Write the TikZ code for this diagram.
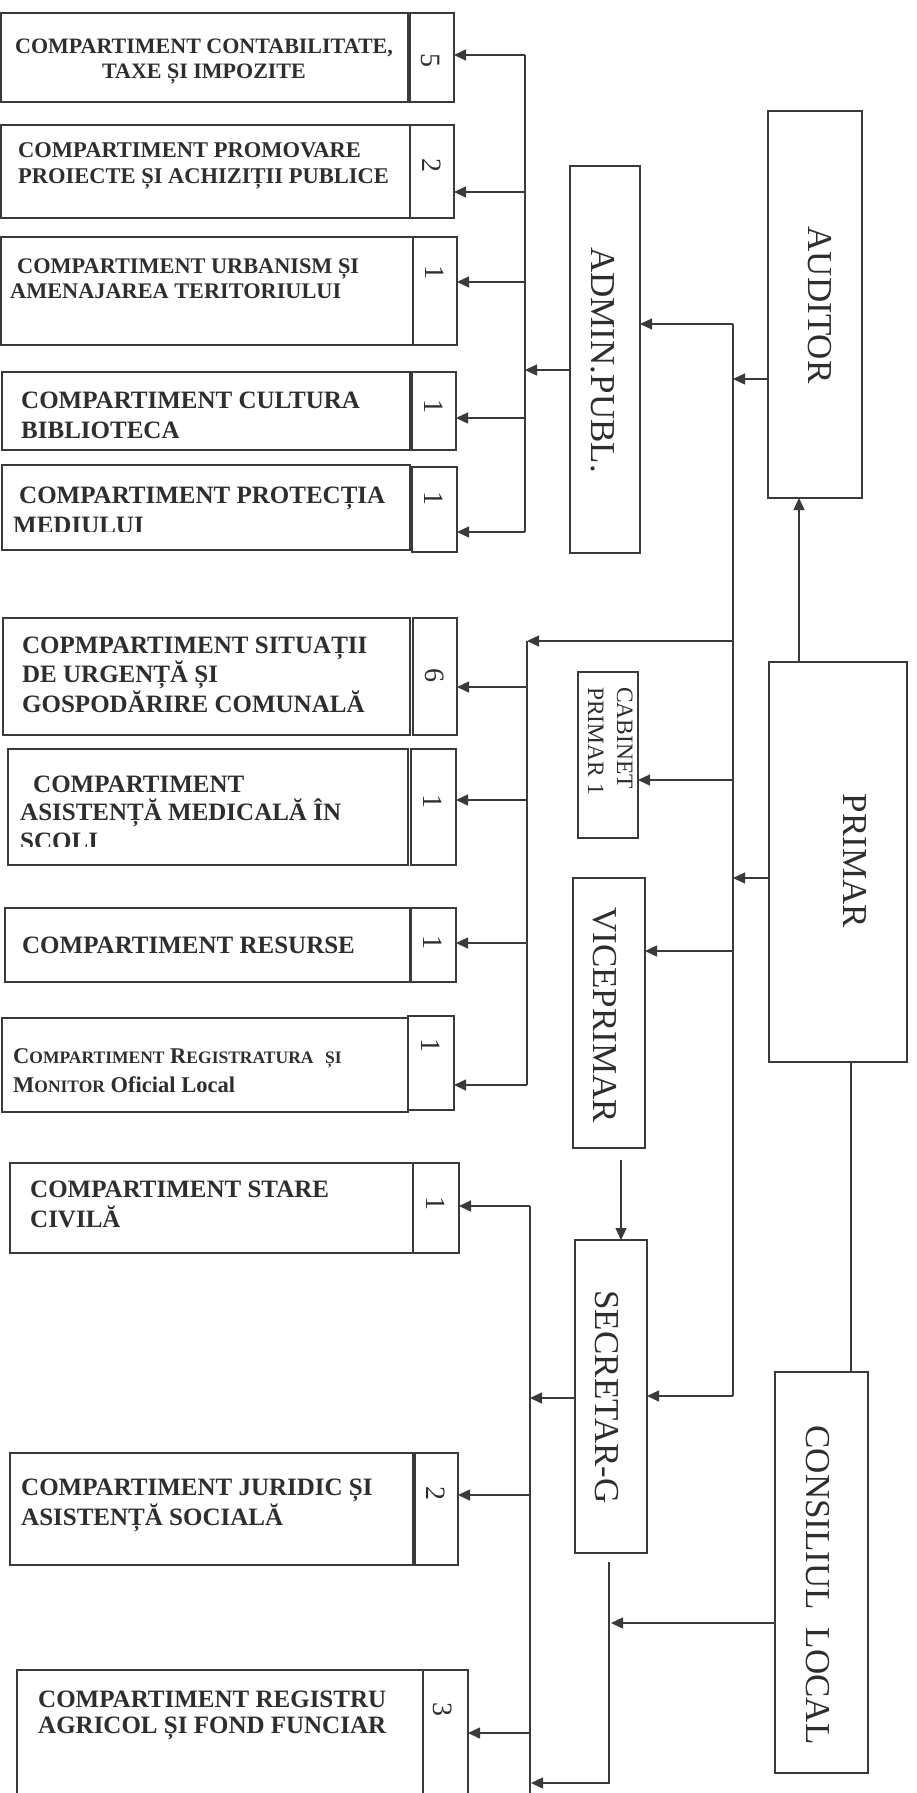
\documentclass[tikz,border=0pt]{standalone}
\usepackage{fontspec}
\setmainfont{Liberation Serif}
\usetikzlibrary{arrows.meta}
\definecolor{inkc}{HTML}{2E2E2E}
\definecolor{linec}{HTML}{3A3A3A}
\newcommand\fsc[1]{{\fontsize{17.5}{20}\selectfont #1}}
\tikzset{
  box/.style={draw=linec, line width=1.6pt, inner sep=0pt, outer sep=0pt, anchor=north west},
  ln/.style={draw=linec, line width=1.4pt},
  arr/.style={draw=linec, line width=1.4pt, -{Triangle[length=12pt,width=11pt]}},
  lt/.style={font=\bfseries\fontsize{25}{29.5}\selectfont, inner sep=0pt, anchor=base west, align=left, text=inkc},
  dig/.style={font=\fontsize{28}{28}\selectfont, rotate=-90, inner sep=0pt, text=inkc},
  rl/.style={font=\fontsize{35}{35}\selectfont, rotate=-90, inner sep=0pt, text=inkc},
}
\newcommand\rbox[6][]{\node[box,#1,minimum width={#5pt-#3pt},minimum height={#6pt-#4pt}] (#2) at (#3,#4) {};}
\begin{document}
\begin{tikzpicture}[x=1pt,y=-1pt]
\useasboundingbox (0,0) rectangle (917,1793);
\clip (0,0) rectangle (917,1793);
\fill[white] (0,0) rectangle (917,1793);

% ---------- left boxes ----------
\rbox{t1}{1}{13}{408}{102}   \rbox{n1}{410}{13}{454}{102}
\rbox{t2}{1}{125}{410}{218}  \rbox{n2}{410}{125}{454}{218}
\rbox{t3}{1}{237}{413}{345}  \rbox{n3}{413}{237}{457}{345}
\rbox{t4}{2}{372}{410}{450}  \rbox{n4}{412}{372}{456}{450}
\rbox{t5}{2}{465}{410}{550}  \rbox{n5}{412}{467}{457}{552}
\rbox{t6}{3}{618}{410}{735}  \rbox{n6}{413}{618}{457}{735}
\rbox{t7}{8}{749}{408}{865}  \rbox{n7}{411}{749}{456}{865}
\rbox{t8}{5}{908}{410}{982}  \rbox{n8}{411}{908}{456}{982}
\rbox{t9}{2}{1018}{408}{1112} \rbox{n9}{408}{1016}{454}{1110}
\rbox{t10}{10}{1163}{413}{1253} \rbox{n10}{413}{1163}{459}{1253}
\rbox{t11}{10}{1453}{413}{1565} \rbox{n11}{415}{1453}{458}{1565}
\rbox{t12}{17}{1670}{423}{1820} \rbox{n12}{423}{1670}{468}{1820}

% multi-line text nodes are anchored at the baseline of their last line
\node[lt, anchor=base, align=center, font=\bfseries\fontsize{22}{25}\selectfont] (x1) at (204,78) {COMPARTIMENT CONTABILITATE,\\TAXE ȘI IMPOZITE};
\node[lt, font=\bfseries\fontsize{22.5}{26}\selectfont] (x2) at (18,183) {COMPARTIMENT PROMOVARE\\PROIECTE ȘI ACHIZIȚII PUBLICE};
\node[lt, font=\bfseries\fontsize{22.3}{25}\selectfont] (x3) at (10,298) {\hspace*{7pt}COMPARTIMENT URBANISM ȘI\\AMENAJAREA TERITORIULUI};
\node[lt, font=\bfseries\fontsize{25}{30}\selectfont] (x4) at (21,438) {COMPARTIMENT CULTURA\\BIBLIOTECA};
\begin{scope}
\clip (2,465) rectangle (410,531);
\node[lt, font=\bfseries\fontsize{25}{30}\selectfont] (x5) at (13,533) {\hspace*{6pt}COMPARTIMENT PROTECȚIA\\MEDIULUI};
\end{scope}
\node[lt] (x6) at (22,712) {COPMPARTIMENT SITUAȚII\\DE URGENȚĂ ȘI\\GOSPODĂRIRE COMUNALĂ};
\begin{scope}
\clip (8,749) rectangle (408,846);
\node[lt, font=\bfseries\fontsize{25}{28.5}\selectfont] (x7) at (20,849) {\hspace*{13pt}COMPARTIMENT\\ASISTENȚĂ MEDICALĂ ÎN\\SCOLI};
\end{scope}
\node[lt] (x8) at (22,953) {COMPARTIMENT RESURSE};
\node[lt, font=\bfseries\fontsize{22.5}{29}\selectfont] (x9) at (13,1092) {C\fsc{OMPARTIMENT} R\fsc{EGISTRATURA}\hspace{6pt} \fsc{ȘI}\\M\fsc{ONITOR} Oficial Local};
\node[lt] (x10) at (30,1227) {COMPARTIMENT STARE\\CIVILĂ};
\node[lt, font=\bfseries\fontsize{25}{30}\selectfont] (x11) at (21,1525) {COMPARTIMENT JURIDIC ȘI\\ASISTENȚĂ SOCIALĂ};
\node[lt, font=\bfseries\fontsize{25}{26.5}\selectfont] (x12) at (38,1733.5) {COMPARTIMENT REGISTRU\\AGRICOL ȘI FOND FUNCIAR};

\node[dig] (d1) at (431,60) {5};
\node[dig] (d2) at (432,165) {2};
\node[dig] (d3) at (435,272) {1};
\node[dig] (d4) at (434,406) {1};
\node[dig] (d5) at (434,498) {1};
\node[dig] (d6) at (435,675) {6};
\node[dig] (d7) at (433,801) {1};
\node[dig] (d8) at (433,942) {1};
\node[dig] (d9) at (431,1045) {1};
\node[dig] (d10) at (436,1203) {1};
\node[dig] (d11) at (436,1493) {2};
\node[dig] (d12) at (443,1709) {3};

% ---------- right boxes ----------
\rbox{aud}{768}{111}{862}{498}
\rbox{adm}{570}{166}{640}{553}
\rbox[line width=2.2pt]{pri}{769}{662}{907}{1062}
\rbox{cab}{578}{672}{638}{838}
\rbox{vice}{573}{878}{645}{1148}
\rbox{sec}{575}{1240}{647}{1553}
\rbox{cl}{775}{1372}{868}{1773}

\node[rl] (laud) at (820,305) {AUDITOR};
\node[rl] (ladm) at (603,360) {ADMIN.PUBL.};
\node[rl] (lpri) at (855,861) {PRIMAR};
\node[rl, anchor=north west, align=left, font=\fontsize{23.5}{29}\selectfont] (lcab) at (633,687) {CABINET\\PRIMAR 1};
\node[rl] (lvice) at (605,1015) {VICEPRIMAR};
\node[rl] (lsec) at (607,1397) {SECRETAR-G};
\node[rl] (lcl) at (818,1585) {CONSILIUL\ \ LOCAL};

% ---------- junction coordinates ----------
\coordinate (mT) at (733,324);
\coordinate (mA) at (733,379);
\coordinate (mS) at (733,641);
\coordinate (mC) at (733,780);
\coordinate (mP) at (733,878);
\coordinate (mV) at (733,951);
\coordinate (mB) at (733,1396);
\coordinate (b1T) at (525,55);
\coordinate (b1a) at (525,192);
\coordinate (b1b) at (525,282);
\coordinate (b1A) at (525,370);
\coordinate (b1c) at (525,418);
\coordinate (b1B) at (525,532);
\coordinate (b2T) at (527,641);
\coordinate (b2a) at (527,687);
\coordinate (b2b) at (527,800);
\coordinate (b2c) at (527,943);
\coordinate (b2B) at (527,1085);
\coordinate (b3T) at (530,1206);
\coordinate (b3S) at (530,1398);
\coordinate (b3a) at (530,1495);
\coordinate (b3b) at (530,1733);
\coordinate (b3B) at (530,1800);
\coordinate (pa) at (799,662);
\coordinate (pc) at (851,1062);
\coordinate (vs) at (621,1160);
\coordinate (sq1) at (609,1562);
\coordinate (sq2) at (609,1783);
\coordinate (sq3) at (531,1783);
\coordinate (cq) at (611,1623);

% ---------- connectors ----------
\draw[ln] (mT) -- (mB);
\draw[arr] (mT) -- (mT -| adm.east);
\draw[arr] (mA -| aud.west) -- (mA);
\draw[arr] (mP -| pri.west) -- (mP);
\draw[arr] (mS) -- (b2T);
\draw[arr] (mC) -- (mC -| cab.east);
\draw[arr] (mV) -- (mV -| vice.east);
\draw[arr] (mB) -- (mB -| sec.east);
\draw[arr] (pa) -- (pa |- aud.south);
\draw[ln] (pc) -- (pc |- cl.north);
\draw[arr] (vs) -- (vs |- sec.north);

\draw[ln] (b1T) -- (b1B);
\draw[arr] (b1A -| adm.west) -- (b1A);
\draw[arr] (b1T) -- (b1T -| n1.east);
\draw[arr] (b1a) -- (b1a -| n2.east);
\draw[arr] (b1b) -- (b1b -| n3.east);
\draw[arr] (b1c) -- (b1c -| n4.east);
\draw[arr] (b1B) -- (b1B -| n5.east);

\draw[ln] (b2T) -- (b2B);
\draw[arr] (b2a) -- (b2a -| n6.east);
\draw[arr] (b2b) -- (b2b -| n7.east);
\draw[arr] (b2c) -- (b2c -| n8.east);
\draw[arr] (b2B) -- (b2B -| n9.east);

\draw[ln] (b3T) -- (b3B);
\draw[arr] (b3S -| sec.west) -- (b3S);
\draw[arr] (b3T) -- (b3T -| n10.east);
\draw[arr] (b3a) -- (b3a -| n11.east);
\draw[arr] (b3b) -- (b3b -| n12.east);
\draw[arr] (sq1) -- (sq2) -- (sq3);
\draw[arr] (cq -| cl.west) -- (cq);
\end{tikzpicture}
\end{document}
